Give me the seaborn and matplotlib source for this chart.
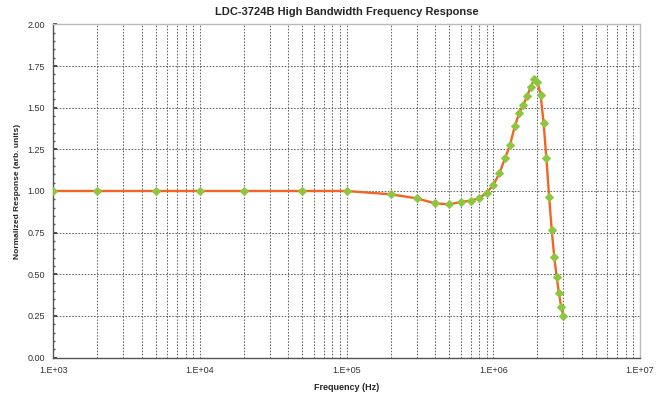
import numpy as np
import pandas as pd
import matplotlib
matplotlib.use("Agg")
import matplotlib.pyplot as plt
import seaborn as sns
from matplotlib.ticker import FixedLocator, NullFormatter, MultipleLocator

freq_hz = [1e3, 2e3, 5e3, 1e4, 2e4, 5e4, 1e5, 2e5, 3e5, 4e5, 5e5, 6e5, 7e5, 8e5, 9e5,
           1.0e6, 1.1e6, 1.2e6, 1.3e6, 1.4e6, 1.5e6, 1.6e6, 1.7e6, 1.8e6, 1.9e6,
           2.0e6, 2.1e6, 2.2e6, 2.3e6, 2.4e6, 2.5e6, 2.6e6, 2.7e6, 2.8e6, 2.9e6, 3.0e6]
response = [1.00, 1.00, 1.00, 1.00, 1.00, 1.00, 1.00, 0.98, 0.956, 0.926, 0.92, 0.934, 0.942, 0.956, 0.99,
            1.036, 1.106, 1.196, 1.276, 1.39, 1.466, 1.516, 1.57, 1.626, 1.67,
            1.656, 1.576, 1.41, 1.196, 0.966, 0.766, 0.606, 0.486, 0.386, 0.306, 0.25]

x_tick_vals = [1e3, 1e4, 1e5, 1e6, 1e7]
x_tick_labels = ["1.E+03", "1.E+04", "1.E+05", "1.E+06", "1.E+07"]
y_tick_vals = [0.0, 0.25, 0.5, 0.75, 1.0, 1.25, 1.5, 1.75, 2.0]

df = pd.DataFrame({"freq": freq_hz, "resp": response})

sns.set_theme(style="white")
plt.rcParams['font.family'] = ['Liberation Sans', 'DejaVu Sans']

fig = plt.figure(figsize=(6.66, 3.93), dpi=100)
ax = fig.add_axes([0.080, 0.090, 0.881, 0.848])

ax.set_xscale("log")
ax.set_xlim(1e3, 1e7)
ax.set_ylim(0, 2.0)

minor_x = [m * 10 ** e for e in range(3, 7) for m in range(2, 10)]
ax.xaxis.set_major_locator(FixedLocator(x_tick_vals))
ax.xaxis.set_minor_locator(FixedLocator(minor_x))
ax.xaxis.set_minor_formatter(NullFormatter())
ax.set_xticklabels(x_tick_labels)
ax.yaxis.set_major_locator(FixedLocator(y_tick_vals))
ax.yaxis.set_minor_locator(MultipleLocator(0.05))
ax.set_yticklabels([f"{v:.2f}" for v in y_tick_vals])

ax.grid(which="major", axis="both", color="#666666", linestyle=(0, (1.5, 1.5)), linewidth=0.75)
ax.grid(which="minor", axis="x", color="#666666", linestyle=(0, (1.5, 1.5)), linewidth=0.75)
ax.set_axisbelow(True)

sns.lineplot(data=df, x="freq", y="resp", ax=ax, color="#f26522", linewidth=1.7,
             marker="D", markersize=4.3, markerfacecolor="#8dc63f", markeredgecolor="#8dc63f",
             zorder=3)

for s in ["left", "bottom"]:
    ax.spines[s].set_color("#555555")
    ax.spines[s].set_linewidth(1.0)
for s in ["top", "right"]:
    ax.spines[s].set_color("#bbbbbb")
    ax.spines[s].set_linewidth(1.0)

ax.tick_params(axis="x", which="major", labelsize=6.5, colors="#333333", length=0, pad=6)
ax.tick_params(axis="x", which="minor", length=0)
ax.tick_params(axis="y", which="major", labelsize=6.5, colors="#333333", length=3, direction="in", pad=6, left=True)
ax.tick_params(axis="y", which="minor", length=1.5, direction="in", left=True, color="#555555")

ax.set_title("LDC-3724B High Bandwidth Frequency Response", fontsize=8, fontweight="bold", pad=7)
ax.set_xlabel("Frequency (Hz)", fontsize=6.5, fontweight="bold", labelpad=6)
ax.set_ylabel("Normalized Response (arb. units)", fontsize=6, fontweight="bold", labelpad=5)

fig.savefig("out.png", dpi=100)
